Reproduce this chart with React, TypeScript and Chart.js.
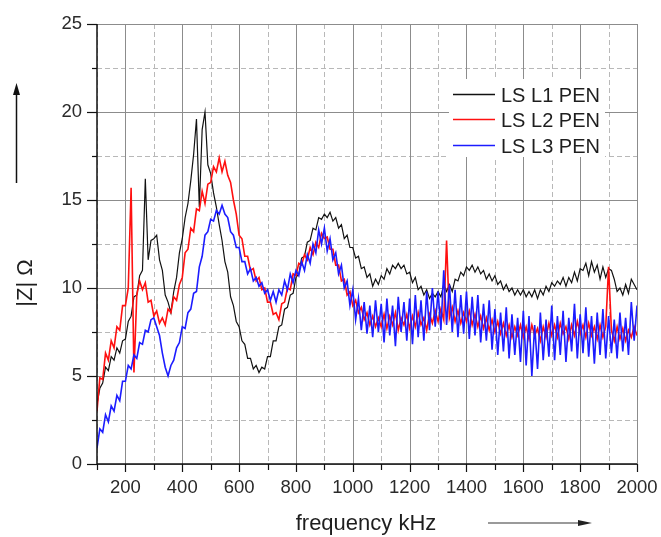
import React, { useEffect, useRef } from "react";
import { Chart, registerables } from "chart.js";

Chart.register(...registerables);

const FREQ_KHZ = [
  100, 110, 120, 130, 140, 150, 160, 170, 180, 190,
  200, 210, 220, 230, 240, 250, 260, 270, 280, 290,
  300, 310, 320, 330, 340, 350, 360, 370, 380, 390,
  400, 410, 420, 430, 440, 450, 460, 470, 480, 490,
  500, 510, 520, 530, 540, 550, 560, 570, 580, 590,
  600, 610, 620, 630, 640, 650, 660, 670, 680, 690,
  700, 710, 720, 730, 740, 750, 760, 770, 780, 790,
  800, 810, 820, 830, 840, 850, 860, 870, 880, 890,
  900, 910, 920, 930, 940, 950, 960, 970, 980, 990,
  1000, 1010, 1020, 1030, 1040, 1050, 1060, 1070, 1080, 1090,
  1100, 1110, 1120, 1130, 1140, 1150, 1160, 1170, 1180, 1190,
  1200, 1210, 1220, 1230, 1240, 1250, 1260, 1270, 1280, 1290,
  1300, 1310, 1320, 1330, 1340, 1350, 1360, 1370, 1380, 1390,
  1400, 1410, 1420, 1430, 1440, 1450, 1460, 1470, 1480, 1490,
  1500, 1510, 1520, 1530, 1540, 1550, 1560, 1570, 1580, 1590,
  1600, 1610, 1620, 1630, 1640, 1650, 1660, 1670, 1680, 1690,
  1700, 1710, 1720, 1730, 1740, 1750, 1760, 1770, 1780, 1790,
  1800, 1810, 1820, 1830, 1840, 1850, 1860, 1870, 1880, 1890,
  1900, 1910, 1920, 1930, 1940, 1950, 1960, 1970, 1980, 1990,
  2000,
];

const LS_L1_PEN = [
  3.4, 4.3, 4.6, 5.5, 5.3, 6.1, 5.9, 6.6, 6.3, 7.0,
  7.1, 8.1, 8.4, 9.5, 9.6, 10.7, 11.0, 16.2, 11.6, 12.7,
  12.8, 13.0, 11.6, 11.0, 9.6, 9.2, 8.6, 9.8, 10.6, 12.0,
  12.8, 14.0, 14.8, 16.1, 17.6, 19.6, 14.6, 19.0, 20.0, 17.0,
  16.5, 15.4, 14.6, 13.6, 12.7, 11.5, 10.9, 9.5, 9.0, 8.1,
  7.8, 7.0, 6.8, 6.0, 6.0, 5.4, 5.6, 5.2, 5.5, 5.4,
  6.1, 6.1, 7.0, 7.0, 7.8, 7.9, 8.8, 8.9, 9.6, 9.7,
  10.6, 10.8, 11.7, 11.8, 12.6, 12.7, 13.4, 13.3, 14.0, 13.9,
  14.2, 14.0, 14.3, 13.8, 14.0, 13.4, 13.6, 12.8, 13.0, 12.3,
  12.3, 11.7, 11.8, 11.1, 11.2, 10.6, 10.8, 10.1, 10.5, 10.2,
  10.7, 10.5, 11.1, 10.8, 11.3, 11.1, 11.4, 11.1, 11.3, 10.8,
  10.9, 10.3, 10.6, 9.9, 10.1, 9.6, 9.9, 9.4, 9.7, 9.5,
  9.8, 9.5, 10.2, 9.8, 10.2, 9.8, 10.5, 10.4, 10.9, 10.7,
  11.2, 11.0, 11.3, 10.9, 11.2, 10.8, 11.0, 10.5, 10.8, 10.4,
  10.7, 10.2, 10.4, 9.9, 10.2, 9.8, 10.0, 9.6, 9.9, 9.6,
  9.9, 9.5, 9.8, 9.5, 9.9, 9.4, 9.9, 9.6, 10.1, 9.8,
  10.3, 10.1, 10.4, 10.2, 10.6, 10.1, 10.6, 10.3, 10.9, 10.4,
  11.1, 11.0, 11.4, 10.7, 11.5, 10.9, 11.3, 10.5, 11.2, 10.6,
  11.1, 11.0, 10.5, 9.8, 10.0, 9.6, 10.2, 9.7, 10.5, 10.2,
  9.9,
];

const LS_L2_PEN = [
  3.0, 4.9, 4.8, 6.3, 5.9, 7.0, 6.6, 7.8, 7.6, 9.0,
  9.0, 10.0, 15.7, 5.2, 9.6, 10.4, 9.9, 10.3, 9.2, 9.3,
  8.4, 8.7, 8.0, 8.3, 7.9, 8.8, 8.6, 9.5, 9.3, 10.2,
  10.6, 12.0, 12.2, 13.4, 13.2, 14.5, 14.4, 15.5, 14.8, 15.9,
  16.0, 16.9, 16.6, 17.4, 16.6, 17.2, 16.4, 16.0, 15.0, 14.2,
  13.0, 12.8, 11.8, 11.8, 11.0, 11.1, 10.4, 10.6, 9.9, 10.0,
  9.2, 9.2, 8.5, 8.6, 8.2, 9.1, 9.2, 10.0, 9.9, 10.8,
  10.7, 11.4, 11.3, 11.9, 11.6, 12.3, 11.9, 12.6, 12.3, 13.1,
  12.8, 12.9, 12.2, 12.2, 11.3, 11.3, 10.4, 10.5, 9.6, 9.8,
  9.0, 9.3, 8.6, 8.9, 8.2, 8.6, 7.9, 8.4, 7.8, 8.3,
  7.8, 8.5, 7.7, 8.4, 7.9, 8.6, 7.6, 8.3, 7.9, 8.5,
  7.7, 8.4, 7.8, 8.6, 7.9, 8.3, 7.6, 8.5, 8.0, 8.7,
  8.1, 8.8, 8.2, 12.7, 8.3, 8.9, 8.1, 8.7, 8.0, 8.6,
  8.1, 8.7, 7.9, 8.5, 7.8, 8.4, 7.7, 8.3, 7.6, 8.2,
  7.5, 8.1, 7.4, 8.0, 7.3, 7.9, 7.2, 7.8, 7.3, 7.9,
  7.2, 7.8, 7.1, 7.9, 7.3, 7.7, 7.0, 7.8, 7.2, 8.0,
  7.3, 7.9, 7.2, 8.0, 7.4, 7.8, 7.1, 7.9, 7.3, 8.1,
  7.4, 7.9, 7.2, 8.0, 7.3, 7.8, 7.1, 7.9, 7.2, 7.8,
  11.2, 7.6, 7.0, 7.8, 7.1, 7.7, 7.0, 7.6, 7.2, 7.8,
  7.3,
];

const LS_L3_PEN = [
  0.9, 2.0, 1.8, 2.8, 2.4, 3.3, 3.0, 3.9, 3.6, 4.7,
  4.7, 5.6, 5.4, 6.2, 6.0, 6.9, 6.8, 7.6, 7.5, 8.2,
  8.3, 7.8, 7.3, 6.3, 5.5, 5.0, 5.6, 5.9, 6.6, 6.9,
  7.8, 7.7, 8.6, 8.8, 9.7, 9.8, 11.2, 11.8, 13.0, 13.2,
  13.9, 13.8, 14.4, 14.2, 14.7, 14.2, 14.0, 13.2, 13.0, 12.3,
  12.3, 11.5, 11.5, 10.8, 11.1, 10.4, 10.6, 10.1, 10.3, 9.7,
  9.9, 9.3, 9.8, 9.2, 9.9, 9.6, 10.4, 9.9, 10.8, 10.3,
  11.0, 10.7, 11.5, 11.0, 11.9, 11.4, 12.5, 12.0, 13.3, 12.5,
  13.4, 12.1, 12.8, 11.6, 12.0, 10.8, 11.3, 10.0, 10.4, 9.0,
  9.9, 8.2, 9.4, 7.6, 9.2, 7.4, 9.0, 7.2, 9.3, 7.5,
  9.1, 6.9, 9.4, 7.3, 9.0, 6.7, 9.5, 7.5, 9.2, 7.0,
  9.4, 6.8, 9.6, 7.2, 9.3, 7.0, 9.8, 7.6, 10.0, 7.8,
  9.8, 7.6, 11.0, 7.9, 10.2, 7.5, 9.9, 7.2, 9.6, 7.4,
  9.8, 7.1, 9.5, 7.3, 9.6, 6.9, 9.1, 7.0, 9.3, 6.5,
  8.8, 6.2, 8.6, 6.4, 8.9, 6.0, 8.5, 6.2, 8.3, 5.8,
  8.7, 5.6, 8.4, 5.0, 7.9, 5.4, 8.6, 5.9, 8.2, 6.1,
  9.0, 5.9, 8.4, 6.2, 8.7, 5.8, 8.3, 6.4, 9.1, 6.0,
  8.5, 6.3, 8.9, 6.1, 8.4, 5.7, 8.6, 6.2, 8.8, 6.0,
  8.4, 6.3, 8.2, 6.0, 8.6, 6.4, 8.3, 6.2, 9.2, 7.0,
  9.0,
];

const SERIES_NAMES = ["LS L1 PEN", "LS L2 PEN", "LS L3 PEN"];
const SERIES_COLORS = ["#111111", "#ff1010", "#1c1cff"];
const SERIES_WIDTHS = [1.2, 1.6, 1.6];

const X_MAJOR_TICKS = [200, 400, 600, 800, 1000, 1200, 1400, 1600, 1800, 2000];
const X_MINOR_TICKS = [100, 300, 500, 700, 900, 1100, 1300, 1500, 1700, 1900];
const Y_MAJOR_TICKS = [0, 5, 10, 15, 20, 25];
const Y_MINOR_TICKS = [2.5, 7.5, 12.5, 17.5, 22.5];

const X_TITLE = "frequency kHz";
const Y_TITLE = "|Z| Ω";

const FONT = "'Liberation Sans', Arial, sans-serif";

function toPoints(values: number[]) {
  return FREQ_KHZ.map((f, i) => ({ x: f, y: values[i] }));
}

const framePlugin = {
  id: "framePlugin",
  beforeDatasetsDraw(chart: any) {
    const { ctx, chartArea: a, scales } = chart;
    const xs = scales.x;
    const ys = scales.y;
    ctx.save();
    ctx.lineWidth = 1;
    ctx.strokeStyle = "#b8b8b8";
    ctx.setLineDash([5, 3]);
    for (const v of X_MINOR_TICKS) {
      const px = Math.round(xs.getPixelForValue(v)) + 0.5;
      ctx.beginPath();
      ctx.moveTo(px, a.top);
      ctx.lineTo(px, a.bottom);
      ctx.stroke();
    }
    for (const v of Y_MINOR_TICKS) {
      const py = Math.round(ys.getPixelForValue(v)) + 0.5;
      ctx.beginPath();
      ctx.moveTo(a.left, py);
      ctx.lineTo(a.right, py);
      ctx.stroke();
    }
    ctx.setLineDash([]);
    ctx.strokeStyle = "#8c8c8c";
    for (const v of X_MAJOR_TICKS) {
      const px = Math.round(xs.getPixelForValue(v)) + 0.5;
      ctx.beginPath();
      ctx.moveTo(px, a.top);
      ctx.lineTo(px, a.bottom);
      ctx.stroke();
    }
    for (const v of Y_MAJOR_TICKS) {
      const py = Math.round(ys.getPixelForValue(v)) + 0.5;
      ctx.beginPath();
      ctx.moveTo(a.left, py);
      ctx.lineTo(a.right, py);
      ctx.stroke();
    }
    ctx.restore();
  },
  afterDatasetsDraw(chart: any) {
    const { ctx, chartArea: a, scales } = chart;
    const xs = scales.x;
    const ys = scales.y;
    ctx.save();
    ctx.strokeStyle = "#111";
    ctx.lineWidth = 1.5;
    ctx.beginPath();
    ctx.moveTo(a.left, a.top);
    ctx.lineTo(a.left, a.bottom);
    ctx.lineTo(a.right, a.bottom);
    ctx.stroke();
    ctx.lineWidth = 1.2;
    for (const v of Y_MAJOR_TICKS) {
      const py = Math.round(ys.getPixelForValue(v)) + 0.5;
      ctx.beginPath();
      ctx.moveTo(a.left - 10, py);
      ctx.lineTo(a.left, py);
      ctx.stroke();
    }
    for (const v of Y_MINOR_TICKS) {
      const py = Math.round(ys.getPixelForValue(v)) + 0.5;
      ctx.beginPath();
      ctx.moveTo(a.left - 5, py);
      ctx.lineTo(a.left, py);
      ctx.stroke();
    }
    for (const v of X_MAJOR_TICKS) {
      const px = Math.round(xs.getPixelForValue(v)) + 0.5;
      ctx.beginPath();
      ctx.moveTo(px, a.bottom);
      ctx.lineTo(px, a.bottom + 8);
      ctx.stroke();
    }
    for (const v of X_MINOR_TICKS) {
      const px = Math.round(xs.getPixelForValue(v)) + 0.5;
      ctx.beginPath();
      ctx.moveTo(px, a.bottom);
      ctx.lineTo(px, a.bottom + 6);
      ctx.stroke();
    }

    ctx.fillStyle = "#ffffff";
    ctx.fillRect(449, 79, 156, 78);
    const rows = [94, 119, 145];
    ctx.font = `20px ${FONT}`;
    ctx.textAlign = "left";
    ctx.textBaseline = "alphabetic";
    SERIES_NAMES.forEach((name, i) => {
      const y = rows[i] + 0.5;
      ctx.strokeStyle = SERIES_COLORS[i];
      ctx.lineWidth = 1.3;
      ctx.beginPath();
      ctx.moveTo(453, y);
      ctx.lineTo(495, y);
      ctx.stroke();
      ctx.fillStyle = "#1e1e1e";
      ctx.fillText(name, 501, rows[i] + 7.5);
    });

    ctx.save();
    ctx.translate(32, 283);
    ctx.rotate(-Math.PI / 2);
    ctx.font = `22px ${FONT}`;
    ctx.fillStyle = "#1e1e1e";
    ctx.textAlign = "center";
    ctx.textBaseline = "alphabetic";
    ctx.fillText(Y_TITLE, 0, 0);
    ctx.restore();

    ctx.strokeStyle = "#111";
    ctx.lineWidth = 1.5;
    ctx.beginPath();
    ctx.moveTo(16.5, 183);
    ctx.lineTo(16.5, 92);
    ctx.stroke();
    ctx.fillStyle = "#111";
    ctx.beginPath();
    ctx.moveTo(16.5, 83);
    ctx.lineTo(13, 95);
    ctx.lineTo(20, 95);
    ctx.closePath();
    ctx.fill();

    ctx.font = `22px ${FONT}`;
    ctx.fillStyle = "#1e1e1e";
    ctx.textAlign = "center";
    ctx.fillText(X_TITLE, 366, 530);

    ctx.strokeStyle = "#9a9a9a";
    ctx.lineWidth = 2;
    ctx.beginPath();
    ctx.moveTo(488, 523);
    ctx.lineTo(582, 523);
    ctx.stroke();
    ctx.fillStyle = "#222";
    ctx.beginPath();
    ctx.moveTo(592, 523);
    ctx.lineTo(578, 520);
    ctx.lineTo(578, 526);
    ctx.closePath();
    ctx.fill();
    ctx.restore();
  },
};

export default function App() {
  const canvasRef = useRef<HTMLCanvasElement | null>(null);

  useEffect(() => {
    const canvas = canvasRef.current;
    if (!canvas) return;
    const seriesValues = [LS_L1_PEN, LS_L2_PEN, LS_L3_PEN];
    const chart = new Chart(canvas, {
      type: "line",
      data: {
        datasets: SERIES_NAMES.map((name, i) => ({
          label: name,
          data: toPoints(seriesValues[i]),
          borderColor: SERIES_COLORS[i],
          backgroundColor: SERIES_COLORS[i],
          borderWidth: SERIES_WIDTHS[i],
          pointRadius: 0,
          tension: 0,
          fill: false,
          order: 3 - i,
        })),
      },
      options: {
        animation: false,
        responsive: false,
        maintainAspectRatio: false,
        devicePixelRatio: 1,
        layout: { padding: { left: 0, top: 24, right: 24, bottom: 0 } },
        plugins: {
          legend: { display: false },
          tooltip: { enabled: false },
        },
        events: [],
        scales: {
          x: {
            type: "linear",
            min: 100,
            max: 2000,
            grid: { display: false, drawTicks: false },
            border: { display: false },
            afterBuildTicks: (scale: any) => {
              scale.ticks = X_MAJOR_TICKS.map((v) => ({ value: v }));
            },
            afterFit: (scale: any) => {
              scale.height = 73;
              scale.paddingLeft = 0;
              scale.paddingRight = 0;
            },
            ticks: {
              autoSkip: false,
              maxRotation: 0,
              minRotation: 0,
              padding: 13,
              color: "#2a2a2a",
              font: { family: FONT, size: 18.5 },
              callback: (v: any) => String(v),
            },
          },
          y: {
            type: "linear",
            min: 0,
            max: 25,
            grid: { display: false, drawTicks: false },
            border: { display: false },
            afterBuildTicks: (scale: any) => {
              scale.ticks = Y_MAJOR_TICKS.map((v) => ({ value: v }));
            },
            afterFit: (scale: any) => {
              scale.width = 97;
              scale.paddingTop = 0;
              scale.paddingBottom = 0;
            },
            ticks: {
              padding: 15,
              color: "#2a2a2a",
              font: { family: FONT, size: 18.5 },
              callback: (v: any) => String(v),
            },
          },
        },
      },
      plugins: [framePlugin],
    });
    return () => chart.destroy();
  }, []);

  return (
    <div style={{ position: "absolute", left: 0, top: 0, width: 661, height: 537, background: "#fff" }}>
      <canvas ref={canvasRef} width={661} height={537} style={{ display: "block", width: 661, height: 537 }} />
    </div>
  );
}
